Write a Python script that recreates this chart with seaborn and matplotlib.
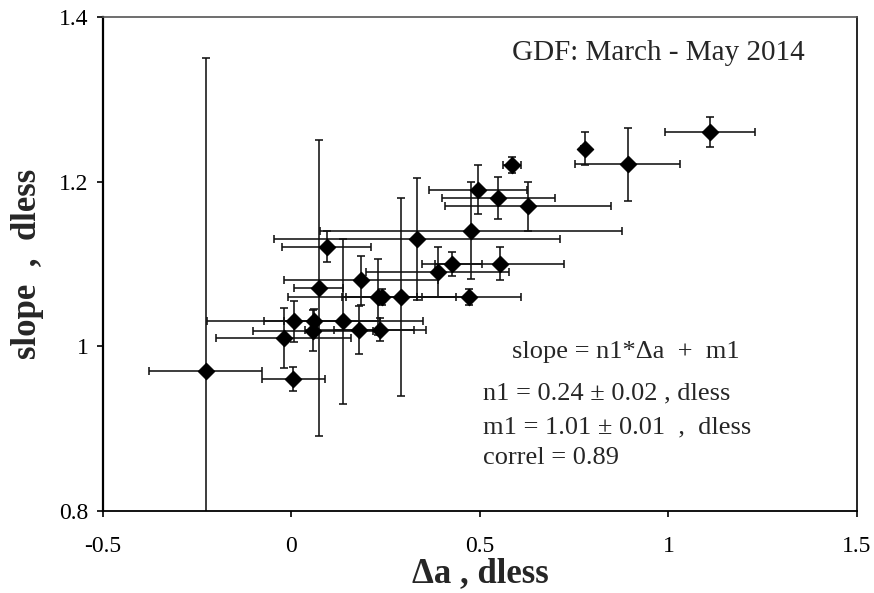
import numpy as np
import pandas as pd
import seaborn as sns
import matplotlib.pyplot as plt

# values
delta_a = [-0.228, 0.005, -0.021, 0.006, 0.061, 0.057, 0.138, 0.180, 0.236,
           0.230, 0.240, 0.290, 0.470, 0.072, 0.185, 0.094, 0.333, 0.388,
           0.426, 0.552, 0.477, 0.494, 0.549, 0.627, 0.584, 0.778, 0.892, 1.110]
slope = [0.970, 0.960, 1.010, 1.030, 1.030, 1.019, 1.030, 1.020, 1.020,
         1.060, 1.060, 1.060, 1.060, 1.071, 1.080, 1.121, 1.130, 1.090,
         1.100, 1.100, 1.140, 1.190, 1.180, 1.170, 1.220, 1.240, 1.221, 1.260]
delta_a_err = [0.150, 0.083, 0.180, 0.230, 0.080, 0.160, 0.210, 0.145, 0.122,
               0.240, 0.105, 0.146, 0.138, 0.064, 0.205, 0.118, 0.380, 0.190,
               0.080, 0.170, 0.400, 0.130, 0.150, 0.220, 0.024, 0.010, 0.139, 0.120]
slope_err = [0.380, 0.015, 0.036, 0.025, 0.015, 0.025, 0.100, 0.029, 0.014,
             0.046, 0.010, 0.120, 0.010, 0.180, 0.030, 0.019, 0.074, 0.030,
             0.015, 0.020, 0.059, 0.030, 0.025, 0.030, 0.010, 0.020, 0.044, 0.018]

x_ticks = [-0.5, 0, 0.5, 1, 1.5]
x_tick_labels = ['-0.5', '0', '0.5', '1', '1.5']
y_ticks = [0.8, 1.0, 1.2, 1.4]
y_tick_labels = ['0.8', '1', '1.2', '1.4']

df = pd.DataFrame({'delta_a': delta_a, 'slope': slope,
                   'xerr': delta_a_err, 'yerr': slope_err})

sns.set_style('ticks')
plt.rcParams['font.family'] = ['Liberation Serif', 'DejaVu Serif']

fig = plt.figure(figsize=(8.74, 5.93), dpi=100)
ax = fig.add_axes([0.1178, 0.1388, 0.8627, 0.8325])

ax.errorbar(df['delta_a'], df['slope'], xerr=df['xerr'], yerr=df['yerr'],
            fmt='none', ecolor='#111111', elinewidth=1.15, capsize=3,
            capthick=1.15, zorder=2)
sns.scatterplot(data=df, x='delta_a', y='slope', marker='D', s=70,
                color='black', edgecolor='black', linewidth=0.8, ax=ax,
                zorder=3)

ax.set_xlim(-0.5, 1.5)
ax.set_ylim(0.8, 1.4)
ax.set_xticks(x_ticks)
ax.set_xticklabels(x_tick_labels)
ax.set_yticks(y_ticks)
ax.set_yticklabels(y_tick_labels)
ax.tick_params(axis='both', labelsize=17, length=4.5, width=1.2,
               color='black', labelcolor='black', direction='out')
ax.tick_params(axis='x', pad=14)
ax.tick_params(axis='y', pad=6)

for side in ['left', 'bottom', 'right']:
    ax.spines[side].set_color('black')
ax.spines['left'].set_linewidth(1.6)
ax.spines['bottom'].set_linewidth(1.3)
ax.spines['right'].set_linewidth(1.2)
ax.spines['top'].set_color('#555555')
ax.spines['top'].set_linewidth(1.2)

ax.set_xlabel('Δa , dless', fontsize=25, fontweight='bold', labelpad=0)
ax.set_ylabel('slope  ,  dless', fontsize=25, fontweight='bold', labelpad=11)

ax.text(0.586, 1.356, 'GDF: March - May 2014', fontsize=21, va='center', ha='left')
ax.text(0.586, 0.993, 'slope = n1*Δa  +  m1', fontsize=19, va='center', ha='left')
ax.text(0.508, 0.943, 'n1 = 0.24 ± 0.02 , dless', fontsize=19, va='center', ha='left')
ax.text(0.508, 0.901, 'm1 = 1.01 ± 0.01  ,  dless', fontsize=19, va='center', ha='left')
ax.text(0.508, 0.864, 'correl = 0.89', fontsize=19, va='center', ha='left')

fig.savefig('out.png', dpi=100)
